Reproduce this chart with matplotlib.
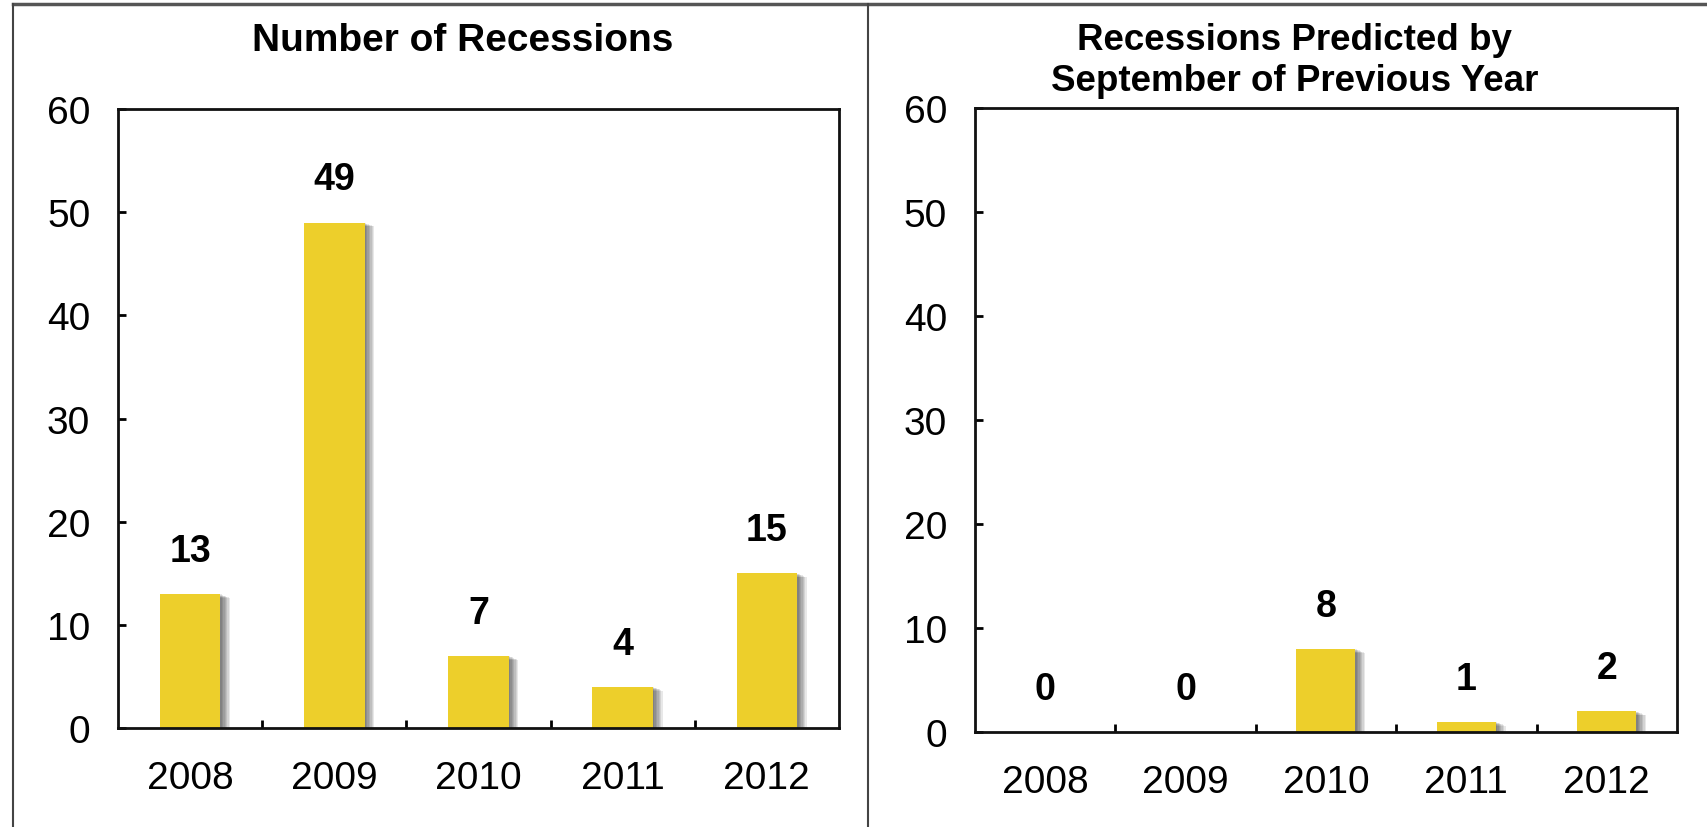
import matplotlib.pyplot as plt
import matplotlib.patheffects as pe
from matplotlib.lines import Line2D

plt.rcParams['font.family'] = ['Liberation Sans', 'DejaVu Sans']

years = ['2008', '2009', '2010', '2011', '2012']
recessions = [13, 49, 7, 4, 15]
predicted = [0, 0, 8, 1, 2]
yticks = [0, 10, 20, 30, 40, 50, 60]

titles = ['Number of Recessions', 'Recessions Predicted by\nSeptember of Previous Year']
title_sizes = [28, 26.5]
series = [recessions, predicted]
boxes = [[0.0691, 0.1196, 0.4221, 0.7475], [0.5708, 0.1147, 0.4110, 0.7536]]
title_pos = [(0.271, 0.951), (0.758, 0.926)]

bar_color = '#EDCF2B'
# soft drop shadow on the right of each bar
shadow = [pe.SimplePatchShadow(offset=(k, -0.4 * k), shadow_rgbFace='k', alpha=0.09)
          for k in range(7, 0, -1)] + [pe.Normal()]

fig = plt.figure(figsize=(17.08, 8.28), dpi=100)

for i in range(2):
    ax = fig.add_axes(boxes[i])
    x = range(len(years))
    bars = ax.bar(x, series[i], width=0.42, color=bar_color, zorder=2)
    for b in bars:
        b.set_path_effects(shadow)
    for xi, v in zip(x, series[i]):
        ax.annotate(str(v), (xi, v), xytext=(0, 31), textcoords='offset points',
                    ha='center', va='center', fontsize=27, fontweight='bold')
    ax.set_xlim(-0.5, 4.5)
    ax.set_ylim(0, 60)
    ax.set_yticks(yticks)
    ax.set_xticks(list(x))
    ax.set_xticklabels(years)
    ax.set_xticks([0.5, 1.5, 2.5, 3.5], minor=True)
    ax.tick_params(axis='x', which='major', length=0, pad=23, labelsize=28)
    ax.tick_params(axis='x', which='minor', direction='in', length=6, width=2)
    ax.tick_params(axis='y', direction='in', length=6, width=2, pad=20, labelsize=28)
    for s in ax.spines.values():
        s.set_linewidth(2)
        s.set_color('#111111')
    fig.text(title_pos[i][0], title_pos[i][1], titles[i], ha='center', va='center',
             fontsize=title_sizes[i], fontweight='bold', linespacing=1.22)

# outer frame lines
fig.add_artist(Line2D([13 / 1708, 1], [1 - 5 / 828, 1 - 5 / 828], color='#555555', lw=2.5))
fig.add_artist(Line2D([13 / 1708, 13 / 1708], [0, 1 - 5 / 828], color='#444444', lw=1.5))
fig.add_artist(Line2D([868 / 1708, 868 / 1708], [0, 1 - 5 / 828], color='#444444', lw=1.5))

fig.savefig('out.png', dpi=100)
